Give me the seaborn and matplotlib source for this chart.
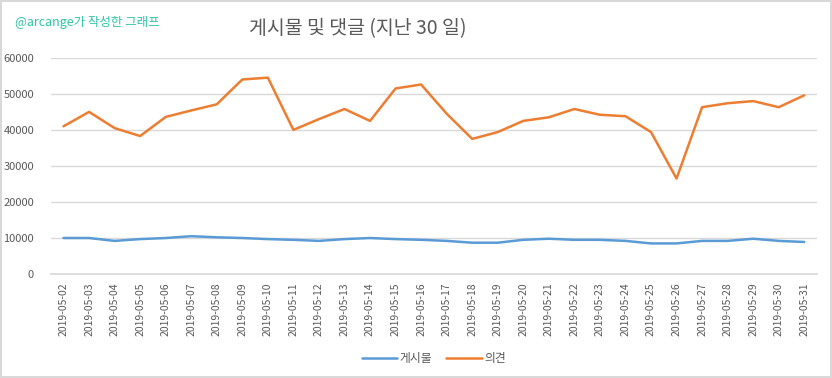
import pandas as pd
import numpy as np
import matplotlib
matplotlib.use('Agg')
import matplotlib.pyplot as plt
import seaborn as sns

# data
dates = ['2019-05-%02d' % d for d in range(2, 32)]
posts = [10000, 10000, 9200, 9700, 10000, 10500, 10200, 10000, 9700, 9500,
         9200, 9700, 10000, 9700, 9500, 9200, 8700, 8700, 9500, 9800,
         9500, 9500, 9200, 8500, 8500, 9200, 9200, 9800, 9200, 8900]
comments = [41000, 45000, 40500, 38300, 43600, 45400, 47100, 54000, 54500, 40000,
            43000, 45800, 42500, 51500, 52600, 44500, 37500, 39400, 42500, 43500,
            45800, 44200, 43800, 39400, 26500, 46300, 47400, 48000, 46300, 49600]
series_names = ['게시물', '의견']
title_text = '게시물 및 댓글 (지난 30 일)'
watermark = '@arcange가 작성한 그래프'

sns.set_theme(style='white')
plt.rcParams['font.family'] = ['Noto Sans CJK KR', 'DejaVu Sans']

df = pd.DataFrame({'date': dates * 2,
                   'value': posts + comments,
                   'series': [series_names[0]] * len(dates) + [series_names[1]] * len(dates)})

fig = plt.figure(figsize=(8.32, 3.78), dpi=100)
fig.patch.set_edgecolor('#d9d9d9')
fig.patch.set_linewidth(1.5)
ax = fig.add_axes([0.061, 0.275, 0.921, 0.572])

sns.lineplot(data=df, x='date', y='value', hue='series',
             palette=['#5b9bd5', '#ed7d31'], linewidth=1.8, ax=ax, sort=False)

ax.set_xlim(-0.5, len(dates) - 0.5)
ax.set_ylim(0, 60000)
ax.set_yticks(np.arange(0, 60001, 10000))
ax.yaxis.grid(True, color='#d9d9d9', linewidth=1)
ax.set_axisbelow(True)
for s in ['top', 'right', 'left']:
    ax.spines[s].set_visible(False)
ax.spines['bottom'].set_color('#d9d9d9')
ax.set_xlabel('')
ax.set_ylabel('')
ax.tick_params(axis='x', labelrotation=90, labelsize=7.5, colors='#595959', length=0, pad=6)
ax.tick_params(axis='y', labelsize=8, colors='#595959', length=0, pad=12)

fig.text(0.43, 0.925, title_text, ha='center', va='center', fontsize=14, color='#595959')
fig.text(0.018, 0.94, watermark, ha='left', va='center', fontsize=9, color='#2ec4a6')

leg = ax.legend(loc='upper center', bbox_to_anchor=(0.5, -0.31), ncol=2, frameon=False,
                fontsize=8.5, handlelength=3, columnspacing=1.2, handletextpad=0.2)
for t in leg.get_texts():
    t.set_color('#595959')

fig.savefig('out.png', dpi=100)
